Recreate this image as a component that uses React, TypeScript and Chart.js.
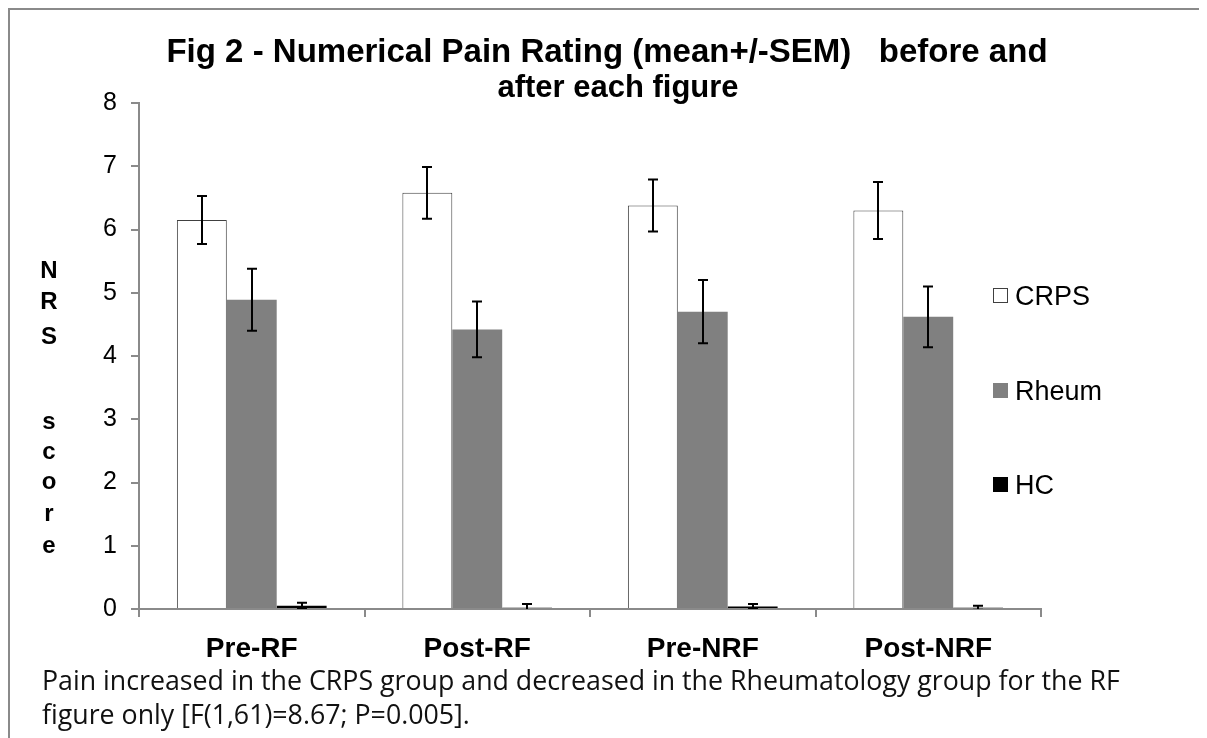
import React, { useEffect, useRef } from "react";
import { Chart, registerables } from "chart.js";

Chart.register(...registerables);

const categories = ["Pre-RF", "Post-RF", "Pre-NRF", "Post-NRF"];
const seriesNames = ["CRPS", "Rheum", "HC"];
const crpsMean = [6.15, 6.58, 6.38, 6.3];
const crpsSem = [0.38, 0.41, 0.41, 0.45];
const rheumMean = [4.89, 4.42, 4.7, 4.62];
const rheumSem = [0.49, 0.44, 0.5, 0.48];
const hcMean = [0.05, 0.02, 0.04, 0.02];
const hcSem = [0.05, 0.06, 0.04, 0.03];
const yTicks = [0, 1, 2, 3, 4, 5, 6, 7, 8];

const titleLines = [
  "Fig 2 - Numerical Pain Rating (mean+/-SEM)   before and",
  "after each figure",
];
const yLabelLetters = ["N", "R", "S", "s", "c", "o", "r", "e"];
const captionLines = [
  "Pain increased in the CRPS group and decreased in the Rheumatology group for the RF",
  "figure only [F(1,61)=8.67; P=0.005].",
];

const fills = ["#ffffff", "#808080", "#000000"];
const borders = ["#404040", "#808080", "#000000"];
const sems = [crpsSem, rheumSem, hcSem];

const ARIAL = '"Liberation Sans", Arial, sans-serif';

const errorBarPlugin = {
  id: "errorBars",
  afterDatasetsDraw(chart: any) {
    const ctx = chart.ctx;
    const ys = chart.scales.y;
    const area = chart.chartArea;
    ctx.save();
    ctx.beginPath();
    ctx.rect(area.left, area.top - 20, area.right - area.left, area.bottom - area.top + 20);
    ctx.clip();
    ctx.strokeStyle = "#000";
    ctx.lineWidth = 2;
    chart.data.datasets.forEach((ds: any, i: number) => {
      const meta = chart.getDatasetMeta(i);
      meta.data.forEach((bar: any, j: number) => {
        const v = ds.data[j];
        const e = sems[i][j];
        const x = Math.round(bar.x);
        const yt = ys.getPixelForValue(v + e);
        const yb = ys.getPixelForValue(v - e);
        ctx.beginPath();
        ctx.moveTo(x, yt);
        ctx.lineTo(x, yb);
        ctx.moveTo(x - 5, yt);
        ctx.lineTo(x + 5, yt);
        ctx.moveTo(x - 5, yb);
        ctx.lineTo(x + 5, yb);
        ctx.stroke();
      });
    });
    ctx.restore();
  },
};

const decorPlugin = {
  id: "decor",
  afterDraw(chart: any) {
    const ctx = chart.ctx;
    ctx.save();
    // frame
    ctx.strokeStyle = "#8a8a8a";
    ctx.lineWidth = 2;
    ctx.beginPath();
    ctx.moveTo(1, 800);
    ctx.lineTo(1, 1);
    ctx.lineTo(1197, 1);
    ctx.stroke();
    ctx.strokeStyle = "#b0b0b0";
    ctx.lineWidth = 1;
    ctx.beginPath();
    ctx.moveTo(1197.5, 1);
    ctx.lineTo(1197.5, 800);
    ctx.stroke();

    ctx.fillStyle = "#000";
    // title
    ctx.textAlign = "center";
    ctx.textBaseline = "alphabetic";
    ctx.font = `bold 33px ${ARIAL}`;
    ctx.fillText(titleLines[0], 599, 54);
    ctx.font = `bold 31px ${ARIAL}`;
    ctx.fillText(titleLines[1], 610, 89);

    // y label
    ctx.font = `bold 24px ${ARIAL}`;
    const ly = [270, 301, 336, 421, 451, 481, 513, 545];
    yLabelLetters.forEach((c, i) => ctx.fillText(c, 41, ly[i]));

    // legend
    const legY = [280, 375, 469];
    ctx.textAlign = "left";
    ctx.font = `27px ${ARIAL}`;
    seriesNames.forEach((n, i) => {
      ctx.fillStyle = fills[i];
      ctx.fillRect(985, legY[i], 15, 15);
      ctx.strokeStyle = i === 0 ? "#404040" : fills[i];
      ctx.lineWidth = 1;
      ctx.strokeRect(985.5, legY[i] + 0.5, 14, 14);
      ctx.fillStyle = "#000";
      ctx.fillText(n, 1007, legY[i] + 17);
    });

    // caption
    const target = 1078;
    let size = 24;
    ctx.font = `${size}px "Open Sans", sans-serif`;
    const w = ctx.measureText(captionLines[0]).width;
    size = (size * target) / w;
    ctx.font = `${size}px "Open Sans", sans-serif`;
    ctx.fillStyle = "#111";
    ctx.fillText(captionLines[0], 34, 682);
    ctx.fillText(captionLines[1], 34, 716);
    ctx.restore();
  },
};

export default function App() {
  const ref = useRef<HTMLCanvasElement>(null);
  useEffect(() => {
    if (!ref.current) return;
    const datasets = [crpsMean, rheumMean, hcMean].map((d, i) => ({
      label: seriesNames[i],
      data: d,
      backgroundColor: fills[i],
      borderColor: borders[i],
      borderWidth: i === 0 ? 1 : 0,
      categoryPercentage: 0.664,
      barPercentage: 1.0,
    }));
    const chart = new Chart(ref.current, {
      type: "bar",
      data: { labels: categories, datasets },
      options: {
        animation: false,
        responsive: false,
        layout: { padding: { left: 31, right: 166, top: 95, bottom: 69 } },
        plugins: {
          legend: { display: false },
          title: { display: false },
          tooltip: { enabled: false },
        },
        scales: {
          x: {
            offset: true,
            grid: {
              display: true,
              offset: true,
              drawOnChartArea: false,
              drawTicks: true,
              tickLength: 8,
              color: "#8a8a8a",
              lineWidth: 2,
            },
            border: { color: "#8a8a8a", width: 2 },
            ticks: {
              color: "#000",
              font: { family: ARIAL, size: 28, weight: "bold" },
              padding: 15,
              maxRotation: 0,
            },
            afterFit: (s: any) => {
              s.height = 60;
            },
          },
          y: {
            min: 0,
            max: 8,
            afterBuildTicks: (s: any) => {
              s.ticks = yTicks.map((v) => ({ value: v }));
            },
            grid: {
              display: true,
              drawOnChartArea: false,
              drawTicks: true,
              tickLength: 8,
              color: "#8a8a8a",
              lineWidth: 2,
            },
            border: { color: "#8a8a8a", width: 2 },
            ticks: {
              color: "#000",
              font: { family: ARIAL, size: 25 },
              padding: 14,
            },
            afterFit: (s: any) => {
              s.width = 100;
            },
          },
        },
      },
      plugins: [errorBarPlugin, decorPlugin],
    });
    return () => chart.destroy();
  }, []);
  return (
    <div style={{ width: 1199, height: 730 }}>
      <canvas ref={ref} width={1199} height={730} style={{ width: 1199, height: 730, display: "block" }} />
    </div>
  );
}
